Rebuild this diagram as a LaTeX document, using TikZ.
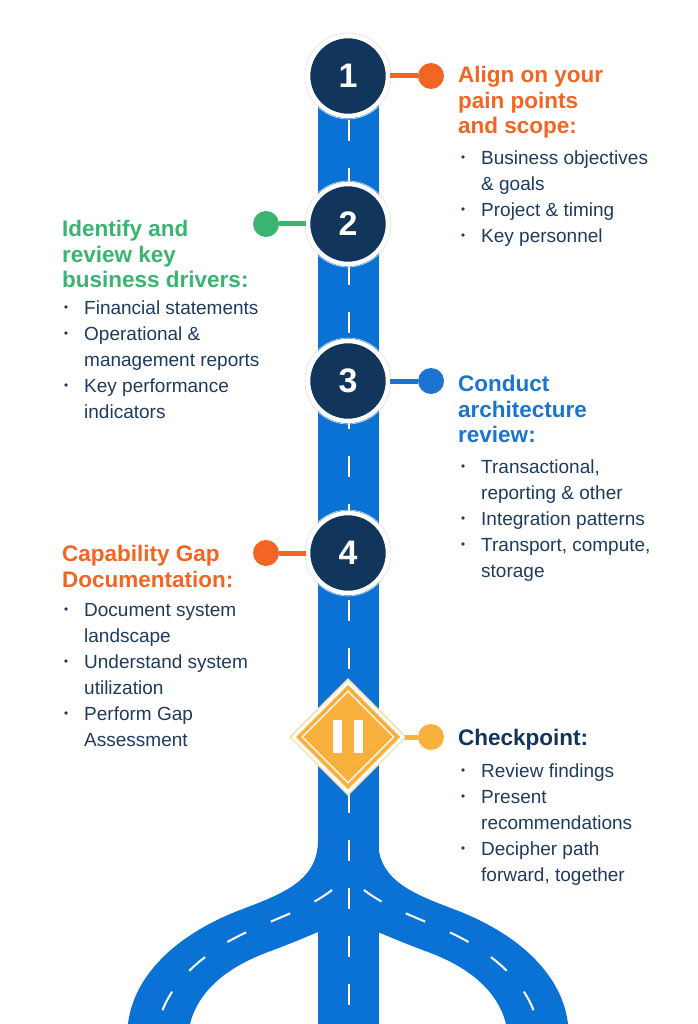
\documentclass[tikz,border=0pt]{standalone}
\usepackage{fontspec}
\setmainfont{Liberation Sans}
\usetikzlibrary{shapes.geometric}
\definecolor{road}{HTML}{0A72D4}
\definecolor{navy}{HTML}{12355B}
\definecolor{txt}{HTML}{1F3A5F}
\definecolor{orng}{HTML}{F26522}
\definecolor{grn}{HTML}{3BB371}
\definecolor{blu}{HTML}{1B75D0}
\definecolor{ylw}{HTML}{F9B03D}
\begin{document}
\begin{tikzpicture}[x=1pt,y=-1pt,
  stepc/.style={circle,fill=navy,draw=white,line width=4.5pt,minimum size=80pt,text=white,font=\bfseries\fontsize{34}{34}\selectfont,inner sep=0pt},
  ring/.style={circle,draw=black!12,line width=0.6pt,minimum size=86pt},
  dot/.style={circle,minimum size=26pt,inner sep=0pt},
  head/.style={anchor=north west,inner sep=0pt,align=left,font=\bfseries\fontsize{22.5}{25.5}\selectfont},
  item/.style={anchor=north west,align=left,text=txt,font=\fontsize{19}{26}\selectfont,inner sep=0pt},
  bul/.style={circle,fill=txt,inner sep=0pt,minimum size=3.6pt},
  lane/.style={white,line width=2pt,dash pattern=on 21pt off 27pt}]
\useasboundingbox (0,0) rectangle (697,1024);
% road fork
\fill[road] (318,800) -- (318,840) .. controls (318,880) and (285,893) .. (240,910) .. controls (170,937) and (133,980) .. (128,1024) -- (190,1024) .. controls (198,992) and (225,968) .. (268,952) .. controls (295,942) and (318,932) .. (318,932) -- cycle;
\fill[road] (378,800) -- (378,840) .. controls (378,880) and (411,893) .. (456,910) .. controls (526,937) and (563,980) .. (568,1024) -- (506,1024) .. controls (498,992) and (471,968) .. (428,952) .. controls (401,942) and (378,932) .. (378,932) -- cycle;
\fill[road] (318,90) rectangle (379,1024);
\draw[lane] (332,890) .. controls (300,915) and (250,925) .. (215,950) .. controls (185,970) and (165,995) .. (158,1024);
\draw[lane] (364,890) .. controls (396,915) and (446,925) .. (481,950) .. controls (511,970) and (531,995) .. (538,1024);
\draw[lane] (348.5,120) -- (348.5,1024);
% connectors and dots
\node[dot,fill=orng] (d1) at (431,76) {};
\node[dot,fill=grn] (d2) at (266,224) {};
\node[dot,fill=blu] (d3) at (431,381) {};
\node[dot,fill=orng] (d4) at (266,553) {};
\node[dot,fill=ylw] (d5) at (431,737) {};
\node[ring] (r1) at (348,76) {};
\node[ring] (r2) at (348,224) {};
\node[ring] (r3) at (348,381) {};
\node[ring] (r4) at (348,553) {};
\node[stepc] (s1) at (348,76) {1};
\node[stepc] (s2) at (348,224) {2};
\node[stepc] (s3) at (348,381) {3};
\node[stepc] (s4) at (348,553) {4};
\draw[orng,line width=5pt] (s1.east) -- (d1);
\draw[grn,line width=5pt] (s2.west) -- (d2);
\draw[blu,line width=5pt] (s3.east) -- (d3);
\draw[orng,line width=5pt] (s4.west) -- (d4);
% checkpoint diamond
\node[diamond,fill=ylw!40!white,minimum size=118pt,inner sep=0pt] (cpo) at (348,737) {};
\node[diamond,fill=ylw,draw=white,line width=3pt,minimum size=110pt,inner sep=0pt] (cp) at (348,737) {};
\node[diamond,draw=white,line width=1.3pt,minimum size=92pt,inner sep=0pt] (cpi) at (348,737) {};
\fill[white] (333,720) rectangle (342,753);
\fill[white] (354,720) rectangle (363,753);
\draw[ylw,line width=5pt] (cp.east) -- (d5);
% texts
\node[head,text=orng] (h1) at (458,66) {Align on your\\pain points\\and scope:};
\node[head,text=grn] (h2) at (62,220) {Identify and\\review key\\business drivers:};
\node[head,text=blu] (h3) at (458,375) {Conduct\\architecture\\review:};
\node[head,text=orng] (h4) at (62,545) {Capability Gap\\Documentation:};
\node[head,text=navy] (h5) at (458,729) {Checkpoint:};
% right bullets
\foreach \y/\t in {157/{Business objectives\\\& goals},209/{Project \& timing},235/{Key personnel},
  466/{Transactional,\\reporting \& other},518/{Integration patterns},544/{Transport, compute,\\storage},
  770/{Review findings},796/{Present\\recommendations},848/{Decipher path\\forward, together}}{
  \node[bul] at (463,\y) {};
  \node[item] at (481,\y-6) {\t};
}
% left bullets
\foreach \y/\t in {307/{Financial statements},333/{Operational \&\\management reports},385/{Key performance\\indicators},
  609/{Document system\\landscape},661/{Understand system\\utilization},713/{Perform Gap\\Assessment}}{
  \node[bul] at (66,\y) {};
  \node[item] at (84,\y-6) {\t};
}
\end{tikzpicture}
\end{document}
